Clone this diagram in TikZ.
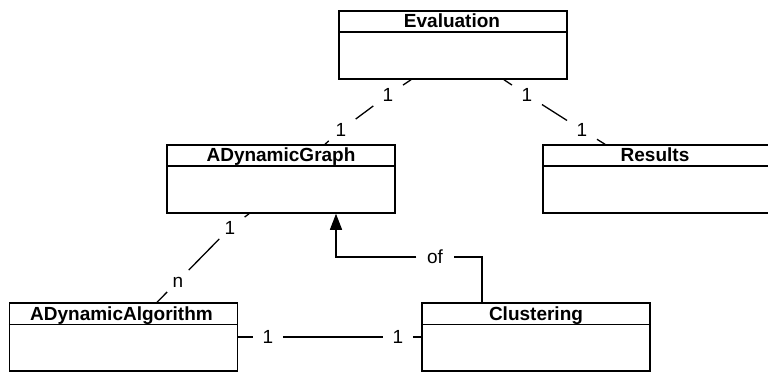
\documentclass[tikz,border=0pt]{standalone}
\usepackage{fontspec}
\setmainfont{Liberation Sans}
\usetikzlibrary{arrows.meta,calc}
\begin{document}
\begin{tikzpicture}[x=1pt,y=-1pt,
  classbox/.style={draw,line width=1.5pt,minimum width=228pt,minimum height=68pt,inner sep=0pt},
  ctitle/.style={font=\fontsize{19}{21}\selectfont\bfseries,text height=13.5pt,text depth=0pt,inner sep=0pt},
  hdr/.style={line width=1.5pt},
  conn/.style={line width=1.3pt},
  mult/.style={font=\fontsize{19}{21}\selectfont,text height=13.5pt,text depth=0pt,inner xsep=9.5pt,inner ysep=4pt},
  gen/.style={conn,-{Triangle[length=16pt,width=12pt]}}]
\clip (0,0) rectangle (768,374);
% classes
\node[classbox] (eval) at (453,45) {};
\node[classbox] (graph) at (281,179) {};
\node[classbox] (res) at (657,179) {};
\node[classbox] (ada) at (123.5,337) {};
\node[classbox] (clus) at (536,337) {};
\foreach \n in {eval,graph,res,ada,clus}{
  \draw[hdr] ($(\n.north west)+(0,22)$) -- ($(\n.north east)+(0,22)$);
}
\node[ctitle] (evalT) at ($(eval.north)+(-1,11)$) {Evaluation};
\node[ctitle] (graphT) at ($(graph.north)+(0,11)$) {ADynamicGraph};
\node[ctitle] (resT) at ($(res.north)+(-2,11)$) {Results};
\node[ctitle] (adaT) at ($(ada.north)+(-2,11)$) {ADynamicAlgorithm};
\node[ctitle] (clusT) at ($(clus.north)+(0,11)$) {Clustering};
% multiplicity labels
\node[mult] (L1) at (388,95) {1};
\node[mult] (L2) at (341,130) {1};
\node[mult] (L3) at (527,95) {1};
\node[mult] (L4) at (582,130) {1};
\node[mult] (L5) at (230,228) {1};
\node[mult] (L6) at (178,281) {n};
\node[mult] (L7) at (268,337) {1};
\node[mult] (L8) at (398,337) {1};
\node[mult,inner xsep=10.5pt] (of) at (435,257) {of};
% anchor points
\coordinate (e1) at ($(eval.south)+(-42,0)$);
\coordinate (g1) at ($(graph.north)+(44,0)$);
\coordinate (e2) at ($(eval.south)+(51,0)$);
\coordinate (r1) at ($(res.north)+(-52,0)$);
\coordinate (g2) at ($(graph.south)+(-32,0)$);
\coordinate (a1) at ($(ada.north)+(33.5,0)$);
\coordinate (c1) at ($(clus.north)+(-54,0)$);
\coordinate (g3) at ($(graph.south)+(55,0)$);
% Evaluation -- ADynamicGraph
\draw[conn] (e1) -- (L1);
\draw[conn] (L1) -- (L2);
\draw[conn] (L2) -- (g1);
% Evaluation -- Results
\draw[conn] (e2) -- (L3);
\draw[conn] (L3) -- (L4);
\draw[conn] (L4) -- (r1);
% ADynamicGraph -- ADynamicAlgorithm
\draw[conn] (g2) -- (L5);
\draw[conn] (L5) -- (L6);
\draw[conn] (L6) -- (a1);
% ADynamicAlgorithm -- Clustering
\draw[conn] (ada.east) -- (L7);
\draw[conn] (L7) -- (L8);
\draw[conn] (L8) -- (clus.west);
% Clustering of ADynamicGraph
\draw[conn] (c1) -- (c1 |- of) -- (of);
\draw[gen] (of) -- (of -| g3) -- (g3);
\end{tikzpicture}
\end{document}
